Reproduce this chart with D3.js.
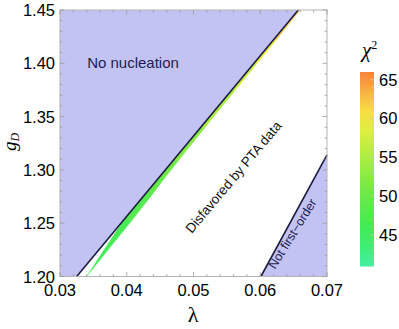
<!DOCTYPE html>
<html>
<head>
<meta charset="utf-8">
<script src="https://cdn.jsdelivr.net/npm/d3@7"></script>
<style>
  body { margin: 0; background: #fff; }
  text { font-family: "Liberation Sans", Arial, sans-serif; }
</style>
</head>
<body>
<script>
// boundary of the "no nucleation" region (lambda, g_D)
const nucLambda = [0.0325, 0.0657]
const nucG = [1.20, 1.45]

// boundary of the "not first-order" region
const nfoLambda = [0.0601, 0.07]
const nfoG = [1.20, 1.314]

// chi^2 band just below the nucleation line
const bandG = [1.2007, 1.2269, 1.2530, 1.2783, 1.2933, 1.3092, 1.3400, 1.3747, 1.4000, 1.4215, 1.4500]
const bandUpper = [0.03407, 0.03680, 0.03954, 0.04290, 0.04491, 0.04702, 0.05112, 0.05575, 0.05912, 0.06198, 0.06571]
const bandLower = [0.03407, 0.03745, 0.04082, 0.04400, 0.04580, 0.04782, 0.05175, 0.05625, 0.05955, 0.06235, 0.06595]
const bandChi2 = [45, 46, 47, 49, 50, 51, 54, 56, 58, 60, 64]

const xTicks = [0.03, 0.04, 0.05, 0.06, 0.07]
const yTicks = [1.20, 1.25, 1.30, 1.35, 1.40, 1.45]
const cbTicks = [45, 50, 55, 60, 65]
const cbDomain = [40.9, 66]

const width = 399, height = 329
const margin = {top: 10, right: 72, bottom: 52.5, left: 60}

const svg = d3.select('body').append('svg')
  .attr('width', width)
  .attr('height', height)

const x = d3.scaleLinear().domain([0.03, 0.07]).range([margin.left, width - margin.right])
const y = d3.scaleLinear().domain([1.20, 1.45]).range([height - margin.bottom, margin.top])

const chiColor = d3.scaleLinear()
  .domain([41, 45, 50, 55, 60, 63, 66])
  .range(['#42f0a2', '#3aec58', '#68e84a', '#acee40', '#f6f040', '#f8b848', '#f8843c'])
  .clamp(true)

const blue = '#c3c3f3'
const edge = '#1c1c40'

// regions
svg.append('path')
  .attr('d', d3.line()([
    [x(0.03), y(1.20)], [x(nucLambda[0]), y(nucG[0])],
    [x(nucLambda[1]), y(nucG[1])], [x(0.03), y(1.45)]
  ]))
  .attr('fill', blue)

svg.append('path')
  .attr('d', d3.line()([
    [x(nfoLambda[0]), y(nfoG[0])], [x(0.07), y(1.20)], [x(nfoLambda[1]), y(nfoG[1])]
  ]))
  .attr('fill', blue)

// band pieces
const band = svg.append('g')
for (let i = 0; i < bandG.length - 1; i++) {
  const c = chiColor((bandChi2[i] + bandChi2[i + 1]) / 2)
  band.append('path')
    .attr('d', d3.line()([
      [x(bandUpper[i]), y(bandG[i])], [x(bandLower[i]), y(bandG[i])],
      [x(bandLower[i + 1]), y(bandG[i + 1])], [x(bandUpper[i + 1]), y(bandG[i + 1])]
    ]) + 'Z')
    .attr('fill', c)
    .attr('stroke', c)
    .attr('stroke-width', 0.4)
}

// boundary lines
svg.append('line')
  .attr('x1', x(nucLambda[0])).attr('y1', y(nucG[0]))
  .attr('x2', x(nucLambda[1])).attr('y2', y(nucG[1]))
  .attr('stroke', edge).attr('stroke-width', 1.6)

svg.append('line')
  .attr('x1', x(nfoLambda[0])).attr('y1', y(nfoG[0]))
  .attr('x2', x(nfoLambda[1])).attr('y2', y(nfoG[1]))
  .attr('stroke', edge).attr('stroke-width', 1.6)

// frame
const frameCol = '#b4b4b4'
svg.append('rect')
  .attr('x', x(0.03)).attr('y', y(1.45))
  .attr('width', x(0.07) - x(0.03)).attr('height', y(1.20) - y(1.45))
  .attr('fill', 'none').attr('stroke', frameCol).attr('stroke-width', 1)

const ticks = svg.append('g').attr('stroke', '#9a9a9a').attr('stroke-width', 0.8)
d3.range(0, 21).forEach(i => {
  const v = 0.03 + i * 0.002
  const len = i % 5 === 0 ? 4.5 : 2.5
  ticks.append('line').attr('x1', x(v)).attr('x2', x(v)).attr('y1', y(1.20)).attr('y2', y(1.20) - len)
  ticks.append('line').attr('x1', x(v)).attr('x2', x(v)).attr('y1', y(1.45)).attr('y2', y(1.45) + len)
})
d3.range(0, 26).forEach(i => {
  const v = 1.20 + i * 0.01
  const len = i % 5 === 0 ? 4.5 : 2.5
  ticks.append('line').attr('y1', y(v)).attr('y2', y(v)).attr('x1', x(0.03)).attr('x2', x(0.03) + len)
  ticks.append('line').attr('y1', y(v)).attr('y2', y(v)).attr('x1', x(0.07)).attr('x2', x(0.07) - len)
})

// tick labels
svg.append('g').selectAll('text')
  .data(xTicks).enter().append('text')
  .attr('x', d => x(d)).attr('y', 296)
  .attr('text-anchor', 'middle')
  .attr('font-size', 16.5)
  .text(d => d.toFixed(2))

svg.append('g').selectAll('text')
  .data(yTicks).enter().append('text')
  .attr('x', 55).attr('y', d => y(d) + 6)
  .attr('text-anchor', 'end')
  .attr('font-size', 16.5)
  .text(d => d.toFixed(2))

// axis titles
svg.append('text')
  .attr('x', 193).attr('y', 322)
  .attr('text-anchor', 'middle')
  .attr('font-size', 22)
  .style('font-family', '"Liberation Serif", serif')
  .text('λ')

const gl = svg.append('text')
  .attr('transform', 'translate(16,142) rotate(-90)')
  .attr('text-anchor', 'middle')
  .attr('font-size', 19)
  .style('font-family', '"Liberation Serif", serif')
  .style('font-style', 'italic')
gl.append('tspan').text('g')
gl.append('tspan').attr('font-size', 12).attr('dy', 3).text('D')

// region labels
svg.append('text')
  .attr('x', 133).attr('y', 68)
  .attr('text-anchor', 'middle')
  .attr('font-size', 15)
  .attr('fill', '#1e1e50')
  .text('No nucleation')

svg.append('text')
  .attr('transform', 'translate(237,180) rotate(-50)')
  .attr('text-anchor', 'middle')
  .attr('font-size', 13.5)
  .attr('fill', '#111')
  .text('Disfavored by PTA data')

svg.append('text')
  .attr('transform', 'translate(296,236) rotate(-58)')
  .attr('text-anchor', 'middle')
  .attr('font-size', 12.5)
  .attr('fill', '#1e1e50')
  .text('Not first\u2212order')

// colorbar
const cb = d3.scaleLinear().domain(cbDomain).range([266.5, 72])
const grad = svg.append('defs').append('linearGradient')
  .attr('id', 'cbgrad')
  .attr('x1', 0).attr('y1', 1).attr('x2', 0).attr('y2', 0)
d3.range(0, 11).forEach(i => {
  const v = cbDomain[0] + i * (cbDomain[1] - cbDomain[0]) / 10
  grad.append('stop').attr('offset', i / 10).attr('stop-color', chiColor(v))
})
svg.append('rect')
  .attr('x', 360).attr('y', cb(cbDomain[1]))
  .attr('width', 14).attr('height', cb(cbDomain[0]) - cb(cbDomain[1]))
  .attr('fill', 'url(#cbgrad)')

const cbt = svg.append('g').attr('stroke', '#c8c8a8').attr('stroke-width', 0.7)
d3.range(41, 66).forEach(v => {
  const len = v % 5 === 0 ? 4 : 2
  cbt.append('line').attr('x1', 374).attr('x2', 374 - len).attr('y1', cb(v)).attr('y2', cb(v))
})

svg.append('g').selectAll('text')
  .data(cbTicks).enter().append('text')
  .attr('x', 379).attr('y', d => cb(d) + 6)
  .attr('font-size', 16.5)
  .text(d => d)

const chi = svg.append('text')
  .attr('x', 362).attr('y', 57)
  .attr('font-size', 21)
  .style('font-family', '"Liberation Serif", serif')
  .style('font-style', 'italic')
chi.append('tspan').text('χ')
chi.append('tspan').attr('font-size', 12).attr('dy', -8).style('font-style', 'normal').text('2')
</script>
</body>
</html>
